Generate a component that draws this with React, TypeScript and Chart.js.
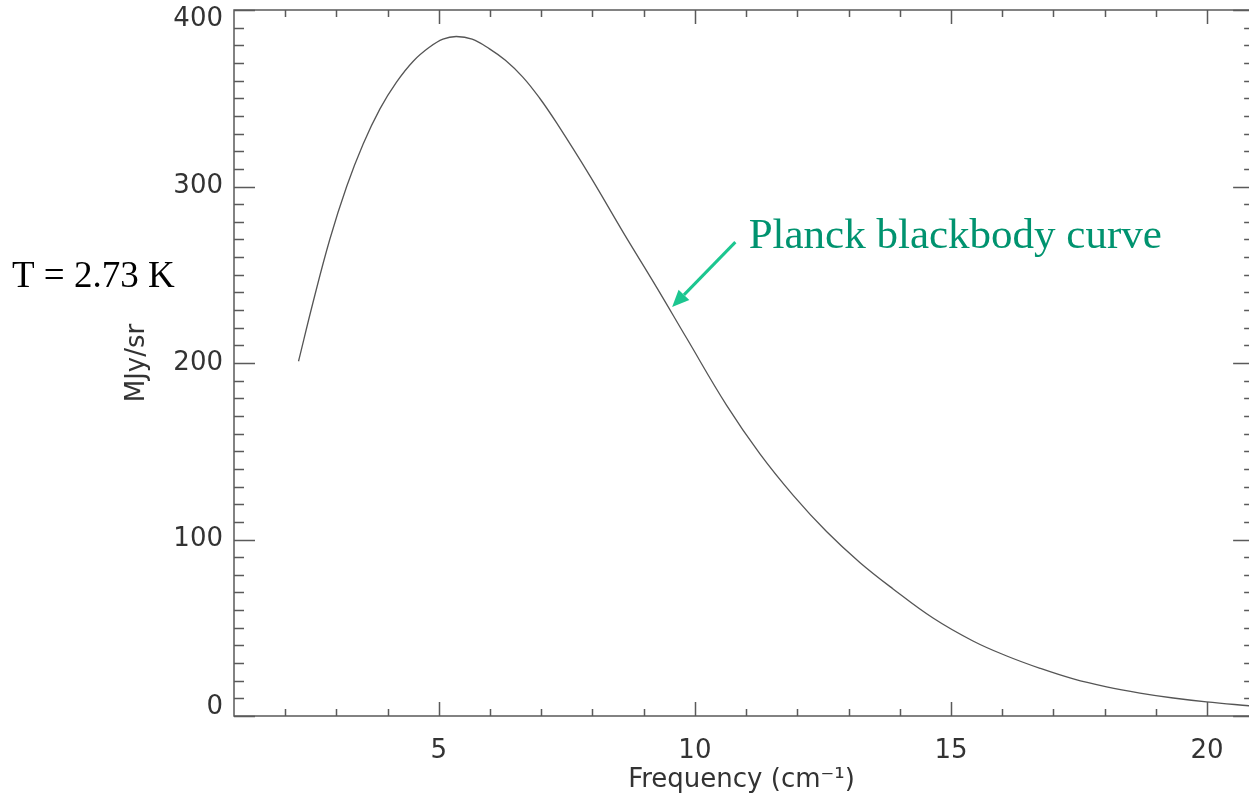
import React, { useEffect, useRef } from 'react';
import { Chart, registerables } from 'chart.js';

Chart.register(...registerables);

// ---- data ----
const FREQ = [2.26, 2.54, 2.87, 3.2, 3.52, 3.85, 4.17, 4.5, 4.82, 5.08, 5.34, 5.65, 5.99, 6.3, 6.64, 6.97, 7.3, 7.95, 8.6, 9.25, 9.84, 10.62, 11.27, 11.92, 12.57, 13.22, 13.87, 14.65, 15.43, 16.09, 16.74, 17.39, 18.04, 18.69, 19.34, 19.99, 20.86];
const INTENSITY = [201, 234, 270, 300, 324, 344, 359, 371, 379, 383.5, 385, 383.5, 378, 371.5, 362, 350, 336, 306, 274, 243, 214, 176, 148.5, 125, 104.5, 87, 72, 55.5, 42.5, 34, 27, 21, 16.5, 13, 10.2, 8, 5.7];
const X_TICKS = [5, 10, 15, 20];
const Y_TICKS = [0, 100, 200, 300, 400];
const X_TITLE = 'Frequency (cm\u207B\u00B9)';
const Y_TITLE = 'MJy/sr';
const TEMP_LABEL = 'T = 2.73 K';
const CURVE_LABEL = 'Planck blackbody curve';

// ---- axis ranges / frame ----
const X_MIN = 1;
const X_MAX = 20.82;
const FRAME_X_MAX = 20.92;
const Y_MIN = 0;
const Y_MAX = 400;
const X_MINOR = 1;
const Y_MINOR = 10;

// ---- annotation anchors (data space) ----
const LABEL_POS = { x: 11.05, y: 265 };
const ARROW_FROM = { x: 10.79, y: 268.5 };
const ARROW_TO = { x: 9.555, y: 231.7 };

const FONT = 'DejaVu Sans';
const TEXT_COLOR = '#333';
const AXIS_COLOR = '#5a5a5a';

const framePlugin = {
  id: 'idlFrame',
  afterDatasetsDraw(chart: any) {
    const { ctx, chartArea: ca, scales } = chart;
    const x = scales.x;
    const y = scales.y;
    const left = ca.left;
    const top = ca.top;
    const bottom = ca.bottom;
    const right = x.getPixelForValue(FRAME_X_MAX);
    ctx.save();
    ctx.strokeStyle = AXIS_COLOR;
    ctx.lineWidth = 1.5;
    ctx.beginPath();
    ctx.moveTo(right, top);
    ctx.lineTo(left, top);
    ctx.lineTo(left, bottom);
    ctx.lineTo(right, bottom);
    ctx.stroke();

    ctx.beginPath();
    for (let v = X_MIN + X_MINOR; v <= FRAME_X_MAX; v += X_MINOR) {
      const px = Math.round(x.getPixelForValue(v)) + 0.5;
      const len = X_TICKS.includes(v) ? 14 : 7;
      ctx.moveTo(px, bottom);
      ctx.lineTo(px, bottom - len);
      ctx.moveTo(px, top);
      ctx.lineTo(px, top + len);
    }
    for (let v = Y_MIN; v <= Y_MAX; v += Y_MINOR) {
      const py = Math.round(y.getPixelForValue(v)) + 0.5;
      const len = Y_TICKS.includes(v) ? 21 : 10;
      ctx.moveTo(left, py);
      ctx.lineTo(left + len, py);
      ctx.moveTo(right, py);
      ctx.lineTo(right - len, py);
    }
    ctx.stroke();
    ctx.restore();
  },
  afterDraw(chart: any) {
    const { ctx, scales } = chart;
    const x = scales.x;
    const y = scales.y;
    ctx.save();
    // temperature label (left of the plot)
    ctx.font = '37px "Liberation Serif"';
    ctx.fillStyle = '#000';
    ctx.textBaseline = 'alphabetic';
    ctx.textAlign = 'left';
    ctx.fillText(TEMP_LABEL, 12, 287);

    // curve label
    ctx.font = '43px "Liberation Serif"';
    ctx.fillStyle = '#00936f';
    ctx.fillText(CURVE_LABEL, x.getPixelForValue(LABEL_POS.x), y.getPixelForValue(LABEL_POS.y));

    // arrow
    const x0 = x.getPixelForValue(ARROW_FROM.x);
    const y0 = y.getPixelForValue(ARROW_FROM.y);
    const x1 = x.getPixelForValue(ARROW_TO.x);
    const y1 = y.getPixelForValue(ARROW_TO.y);
    const ang = Math.atan2(y1 - y0, x1 - x0);
    const headLen = 17;
    const headW = 7.5;
    const bx = x1 - headLen * Math.cos(ang);
    const by = y1 - headLen * Math.sin(ang);
    ctx.strokeStyle = '#1cc690';
    ctx.fillStyle = '#1cc690';
    ctx.lineWidth = 3;
    ctx.beginPath();
    ctx.moveTo(x0, y0);
    ctx.lineTo(bx, by);
    ctx.stroke();
    ctx.beginPath();
    ctx.moveTo(x1, y1);
    ctx.lineTo(bx + headW * Math.sin(ang), by - headW * Math.cos(ang));
    ctx.lineTo(bx - headW * Math.sin(ang), by + headW * Math.cos(ang));
    ctx.closePath();
    ctx.fill();
    ctx.restore();
  },
};

export default function App() {
  const canvasRef = useRef<HTMLCanvasElement | null>(null);

  useEffect(() => {
    const canvas = canvasRef.current;
    if (!canvas) return;
    const chart = new Chart(canvas, {
      type: 'line',
      data: {
        datasets: [
          {
            data: FREQ.map((f, i) => ({ x: f, y: INTENSITY[i] })),
            borderColor: '#555',
            borderWidth: 1.3,
            pointRadius: 0,
            fill: false,
            tension: 0.4,
          },
        ],
      },
      options: {
        animation: false,
        responsive: false,
        devicePixelRatio: 1,
        layout: { padding: { top: 10, left: 0, right: 0, bottom: 0 } },
        plugins: {
          legend: { display: false },
          tooltip: { enabled: false },
        },
        scales: {
          x: {
            type: 'linear',
            min: X_MIN,
            max: X_MAX,
            afterBuildTicks: (s: any) => {
              s.ticks = X_TICKS.map((v) => ({ value: v }));
            },
            afterFit: (s: any) => {
              s.height = 82;
              s.paddingLeft = 0;
              s.paddingRight = 0;
            },
            grid: { display: false, drawTicks: false },
            border: { display: false },
            ticks: {
              font: { family: FONT, size: 26 },
              color: TEXT_COLOR,
              padding: 20,
              maxRotation: 0,
              autoSkip: false,
            },
            title: {
              display: true,
              text: X_TITLE,
              font: { family: FONT, size: 26 },
              color: TEXT_COLOR,
              padding: { top: 0, bottom: 2 },
            },
          },
          y: {
            type: 'linear',
            min: Y_MIN,
            max: Y_MAX,
            afterBuildTicks: (s: any) => {
              s.ticks = Y_TICKS.map((v) => ({ value: v }));
            },
            afterFit: (s: any) => {
              s.width = 234;
              s.paddingTop = 0;
              s.paddingBottom = 0;
            },
            grid: { display: false, drawTicks: false },
            border: { display: false },
            ticks: {
              font: { family: FONT, size: 26, lineHeight: '18px' },
              color: TEXT_COLOR,
              padding: 11,
              autoSkip: false,
              callback: (v: any) => {
                if (v === Y_MAX) return ['', String(v)];
                if (v === Y_MIN) return [String(v), ''];
                return String(v);
              },
            },
            title: {
              display: true,
              text: Y_TITLE,
              font: { family: FONT, size: 26 },
              color: TEXT_COLOR,
              padding: { top: 122, bottom: 0 },
            },
          },
        },
      },
      plugins: [framePlugin],
    } as any);
    return () => chart.destroy();
  }, []);

  return (
    <div style={{ position: 'fixed', left: 0, top: 0, width: 1249, height: 798, background: '#fff' }}>
      <canvas ref={canvasRef} width={1249} height={798} style={{ display: 'block' }} />
    </div>
  );
}
